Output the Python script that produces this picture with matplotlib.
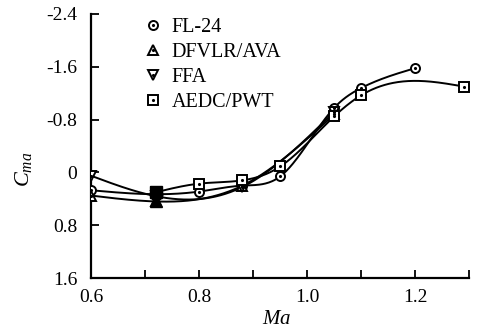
import numpy as np
import matplotlib
matplotlib.use("Agg")
import matplotlib.pyplot as plt
from matplotlib.lines import Line2D

plt.rcParams['font.family'] = ['Liberation Serif', 'DejaVu Serif']
plt.rcParams['mathtext.fontset'] = 'custom'
plt.rcParams['mathtext.it'] = 'Liberation Serif:italic'
plt.rcParams['mathtext.rm'] = 'Liberation Serif'

# data
names = ['FL-24', 'DFVLR/AVA', 'FFA', 'AEDC/PWT']
markers = ['o', '^', 'v', 's']

fl24_ma = [0.6, 0.72, 0.8, 0.88, 0.95, 1.05, 1.1, 1.2]
fl24_cm = [0.27, 0.33, 0.29, 0.20, 0.06, -0.98, -1.28, -1.58]

dfvlr_ma = [0.6, 0.72, 0.88, 1.05]
dfvlr_cm = [0.35, 0.44, 0.20, -0.88]

ffa_ma = [0.6, 0.72, 0.88, 1.05]
ffa_cm = [0.05, 0.36, 0.22, -0.92]

aedc_ma = [0.72, 0.8, 0.88, 0.95, 1.05, 1.1, 1.29]
aedc_cm = [0.30, 0.17, 0.12, -0.09, -0.85, -1.17, -1.30]

all_ma = [fl24_ma, dfvlr_ma, ffa_ma, aedc_ma]
all_cm = [fl24_cm, dfvlr_cm, ffa_cm, aedc_cm]


def natural_spline(x, y, xs):
    # plain natural cubic spline, no scipy needed
    x = np.asarray(x, float)
    y = np.asarray(y, float)
    n = len(x)
    h = np.diff(x)
    A = np.zeros((n, n))
    b = np.zeros(n)
    A[0, 0] = A[-1, -1] = 1
    for i in range(1, n - 1):
        A[i, i - 1] = h[i - 1]
        A[i, i] = 2 * (h[i - 1] + h[i])
        A[i, i + 1] = h[i]
        b[i] = 6 * ((y[i + 1] - y[i]) / h[i] - (y[i] - y[i - 1]) / h[i - 1])
    M = np.linalg.solve(A, b)
    k = np.clip(np.searchsorted(x, xs) - 1, 0, n - 2)
    t0 = x[k + 1] - xs
    t1 = xs - x[k]
    hk = h[k]
    return (M[k] * t0**3 / (6 * hk) + M[k + 1] * t1**3 / (6 * hk)
            + (y[k] / hk - M[k] * hk / 6) * t0 + (y[k + 1] / hk - M[k + 1] * hk / 6) * t1)


fig = plt.figure(figsize=(4.79, 3.33), dpi=100)
ax = fig.add_axes([0.19, 0.165, 0.79, 0.793])

handles = []
for ma, cm, mk in zip(all_ma, all_cm, markers):
    ma = np.array(ma)
    cm = np.array(cm)
    xs = np.linspace(ma.min(), ma.max(), 300)
    ax.plot(xs, natural_spline(ma, cm, xs), color='black', lw=1.4, zorder=2)
    ax.plot(ma, cm, linestyle='none', marker=mk, ms=6.5, mfc='white',
            mec='black', mew=1.4, zorder=3)
    ax.plot(ma, cm, linestyle='none', marker='.', ms=2.5, color='black', zorder=4)
    # dense black cluster around Ma 0.72
    sel = np.isclose(ma, 0.72)
    ax.plot(ma[sel], cm[sel], linestyle='none', marker=mk, ms=9, color='black', zorder=5)
    h1 = Line2D([], [], linestyle='none', marker=mk, ms=6.5, mfc='white', mec='black', mew=1.4)
    h2 = Line2D([], [], linestyle='none', marker='.', ms=2.5, color='black')
    handles.append((h1, h2))

ax.legend(handles, names, loc='upper left', bbox_to_anchor=(0.09, 1.055), frameon=False,
          fontsize=14.5, handlelength=1.0, handletextpad=0.4, labelspacing=0.3)

ax.set_xlim(0.6, 1.3)
ax.set_ylim(1.6, -2.4)
ax.set_xticks([0.6, 0.8, 1.0, 1.2])
ax.set_xticks([0.7, 0.9, 1.1, 1.3], minor=True)
ax.set_yticks([1.6, 0.8, 0, -0.8, -1.6, -2.4])
ax.set_yticklabels(['1.6', '0.8', '0', '-0.8', '-1.6', '-2.4'])
ax.tick_params(axis='y', direction='in', length=6, width=1.3, labelsize=14, pad=10)
ax.tick_params(axis='x', direction='in', length=6, width=1.3, labelsize=14, pad=8)
ax.tick_params(which='minor', direction='in', length=6, width=1.3)
for s in ['top', 'right']:
    ax.spines[s].set_visible(False)
for s in ['left', 'bottom']:
    ax.spines[s].set_linewidth(1.6)

ax.set_xlabel('$Ma$', fontsize=15)
ax.set_ylabel('$C_{ma}$', fontsize=16)
ax.xaxis.set_label_coords(0.49, -0.12)
ax.yaxis.set_label_coords(-0.15, 0.41)

fig.savefig('out.png', dpi=100)
